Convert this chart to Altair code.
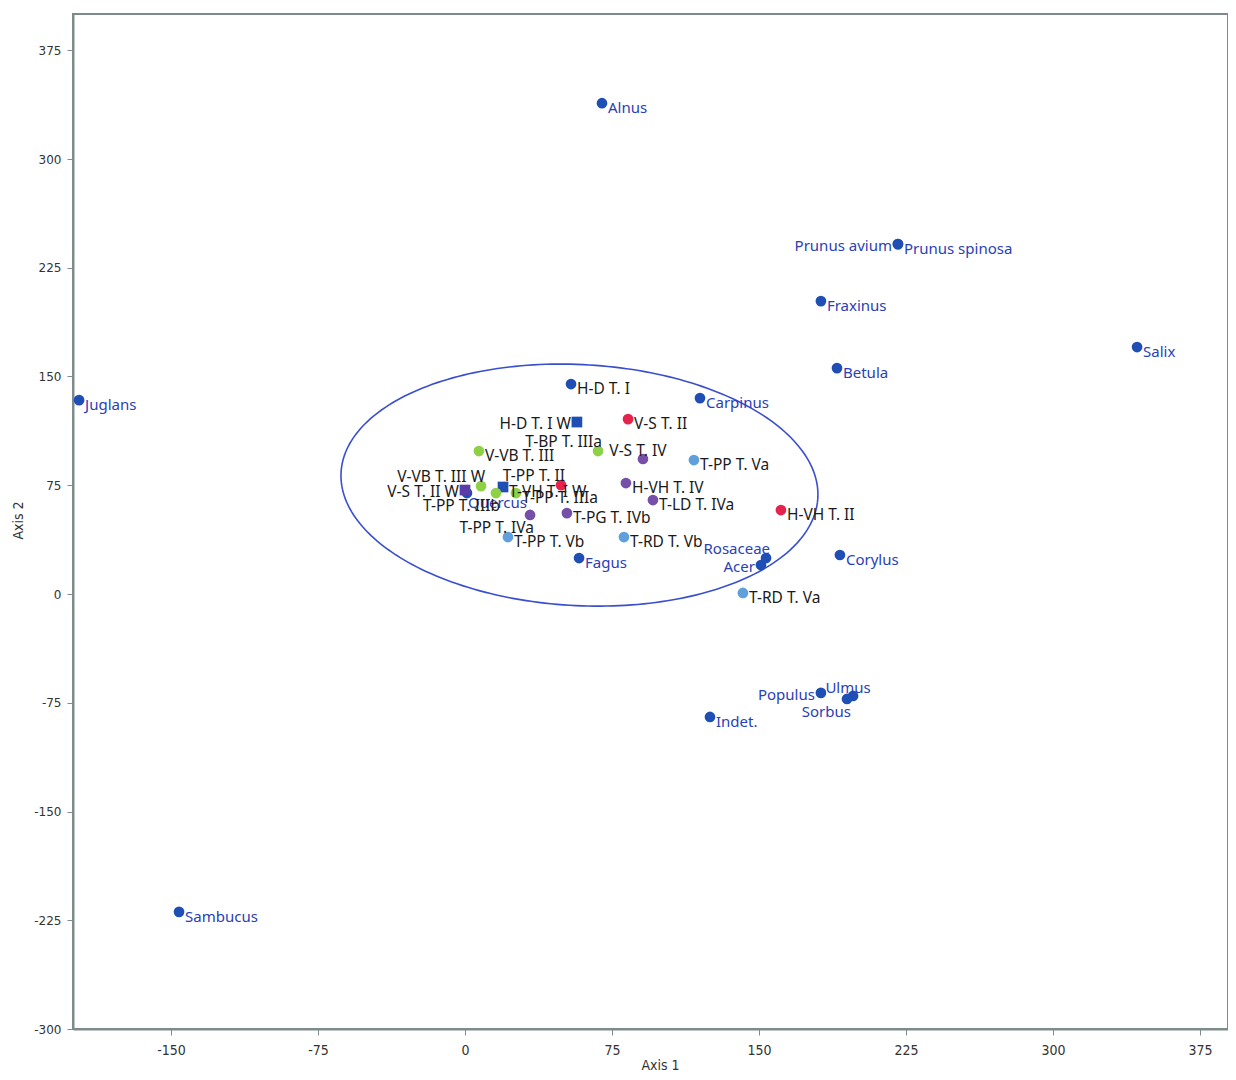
import altair as alt
import pandas as pd
import numpy as np

# ---- data ----
names = ["Alnus", "Prunus avium", "Prunus spinosa", "Fraxinus", "Salix", "Betula", "Juglans",
         "Carpinus", "Corylus", "Rosaceae", "Acer", "Fagus", "Quercus", "Populus", "Ulmus",
         "Sorbus", "Indet.", "Sambucus",
         "H-D T. I", "H-D T. I W", "T-VH T. I W",
         "V-S T. II", "T-PP T. II", "H-VH T. II", "V-S T. II W",
         "V-VB T. III", "T-BP T. IIIa", "V-VB T. III W", "T-PP T. IIIb", "T-PP T. IIIa",
         "V-S T. IV", "H-VH T. IV", "T-LD T. IVa", "T-PG T. IVb", "T-PP T. IVa",
         "T-PP T. Va", "T-PP T. Vb", "T-RD T. Vb", "T-RD T. Va"]
axis1 = [69.9, 220.9, 220.9, 181.6, 342.9, 189.8, -196.9,
         119.9, 191.3, 153.6, 151.0, 58.2, 1.0, 181.6, 198.0,
         194.9, 125.0, -145.9,
         54.1, 57.1, 19.4,
         83.2, 49.0, 161.2, 0.0,
         7.1, 67.9, 8.2, 15.8, 26.0,
         90.8, 82.1, 95.9, 52.0, 33.2,
         116.8, 21.9, 81.1, 141.8]
axis2 = [338.5, 241.3, 241.3, 202.0, 170.3, 155.8, 133.7,
         135.1, 26.9, 24.8, 20.0, 24.8, 69.6, -68.2, -70.3,
         -72.4, -84.8, -219.2,
         144.8, 118.6, 73.8,
         120.6, 75.1, 57.9, 71.7,
         98.6, 98.6, 74.4, 69.6, 69.6,
         93.1, 76.5, 64.8, 55.8, 54.5,
         92.4, 39.3, 39.3, 0.7]
kind = ["taxon"] * 18 + ["site"] * 21
group = ["Taxon"] * 18 + ["I", "I", "I", "II", "II", "II", "IIW",
                          "III", "III", "III", "III", "III",
                          "IV", "IV", "IV", "IV", "IV",
                          "V", "V", "V", "V"]
shape = ["circle"] * 18 + ["circle", "square", "square", "circle", "circle", "circle", "square",
                           "circle", "circle", "circle", "circle", "circle",
                           "circle", "circle", "circle", "circle", "circle",
                           "circle", "circle", "circle", "circle"]
place = ["r", "l", "r", "r", "r", "r", "r",
         "r", "r", "la", "l", "r", "rb", "l", "ua",
         "lb", "r", "r",
         "r", "l", "r",
         "r", "la", "r", "l",
         "r", "la", "la", "lb", "r",
         "ua", "r", "r", "r", "lb",
         "r", "r", "r", "r"]

# confidence ellipse parameters (centre, semi-axes, rotation in degrees)
ell_cx, ell_cy, ell_a, ell_b, ell_rot = 58.4, 75.1, 122.0, 83.0, -5.7

group_dom = ["Taxon", "I", "II", "IIW", "III", "IV", "V"]
group_col = ["#1f4fb5", "#1f4fb5", "#e5234c", "#5a3da6", "#8fd146", "#7650a8", "#5f9fdb"]

x_ticks = [-150, -75, 0, 75, 150, 225, 300, 375]
y_ticks = [-300, -225, -150, -75, 0, 75, 150, 225, 300, 375]

df = pd.DataFrame({"name": names, "x": axis1, "y": axis2, "kind": kind,
                   "group": group, "shape": shape, "place": place})

t = np.linspace(0, 2 * np.pi, 241)
r = np.deg2rad(ell_rot)
ex = ell_cx + ell_a * np.cos(t) * np.cos(r) - ell_b * np.sin(t) * np.sin(r)
ey = ell_cy + ell_a * np.cos(t) * np.sin(r) + ell_b * np.sin(t) * np.cos(r)
edf = pd.DataFrame({"x": ex, "y": ey, "o": np.arange(len(t))})

xsc = alt.Scale(domain=[-200, 389.3], nice=False, zero=False)
ysc = alt.Scale(domain=[-300, 400], nice=False, zero=False)

narrow = "Liberation Sans Narrow, DejaVu Sans Condensed, Roboto Condensed, Liberation Sans"
minus_fix = "replace(datum.label, '\u2212', '-')"

xax = alt.Axis(values=x_ticks, title="Axis 1", grid=False, labelFont=narrow,
               labelFontSize=14, labelColor="#333", labelPadding=8, tickSize=6,
               labelExpr=minus_fix,
               titleFont=narrow, titleFontSize=14, titleFontWeight="normal",
               titleColor="#333", titleX=587, titleY=36, titleBaseline="middle")
yax = alt.Axis(values=y_ticks, title="Axis 2", grid=False, labelFont="DejaVu Sans",
               labelFontSize=12, labelColor="#333", labelPadding=6, tickSize=6,
               labelExpr=minus_fix,
               titleFont=narrow, titleFontSize=14, titleFontWeight="normal",
               titleColor="#333", titleX=-55, titleY=506, titleBaseline="middle", titleAngle=-90)

ellipse = alt.Chart(edf).mark_line(color="#3a4fd0", strokeWidth=1.6).encode(
    x=alt.X("x:Q", scale=xsc, axis=xax),
    y=alt.Y("y:Q", scale=ysc, axis=yax),
    order="o:Q",
)

points = alt.Chart(df).mark_point(filled=True, opacity=1, size=115).encode(
    x=alt.X("x:Q", scale=xsc),
    y=alt.Y("y:Q", scale=ysc),
    color=alt.Color("group:N", scale=alt.Scale(domain=group_dom, range=group_col), legend=None),
    shape=alt.Shape("shape:N", scale=alt.Scale(domain=["circle", "square"], range=["circle", "square"]),
                    legend=None),
)

placements = {
    "r": dict(align="left", dx=6, dy=5),
    "rb": dict(align="left", dx=1, dy=10),
    "l": dict(align="right", dx=-6, dy=2),
    "la": dict(align="right", dx=4, dy=-9),
    "lb": dict(align="right", dx=4, dy=13),
    "ua": dict(align="center", dx=-5, dy=-8),
}

label_layers = []
for key, opts in placements.items():
    for k, fs, col in [("taxon", 15, "#2a40b8"), ("site", 15.5, "#1a1a1a")]:
        label_layers.append(
            alt.Chart(df).transform_filter(
                (alt.datum.place == key) & (alt.datum.kind == k)
            ).mark_text(
                baseline="middle", font="Noto Sans", fontSize=fs, color=col, **opts
            ).encode(
                x=alt.X("x:Q", scale=xsc),
                y=alt.Y("y:Q", scale=ysc),
                text="name:N",
            )
        )

chart = alt.layer(ellipse, points, *label_layers).properties(
    width=1155, height=1015,
    autosize=alt.AutoSizeParams(type="none"),
    padding={"left": 65, "top": 6, "right": 0, "bottom": 42},
    background="white",
).configure_view(
    stroke="#7f8b8b", strokeWidth=2
).configure_axis(
    domainColor="#7f8b8b", domainWidth=2, tickColor="#7f8b8b"
)

chart.save("out.html", embed_options={"renderer": "svg", "actions": False})
